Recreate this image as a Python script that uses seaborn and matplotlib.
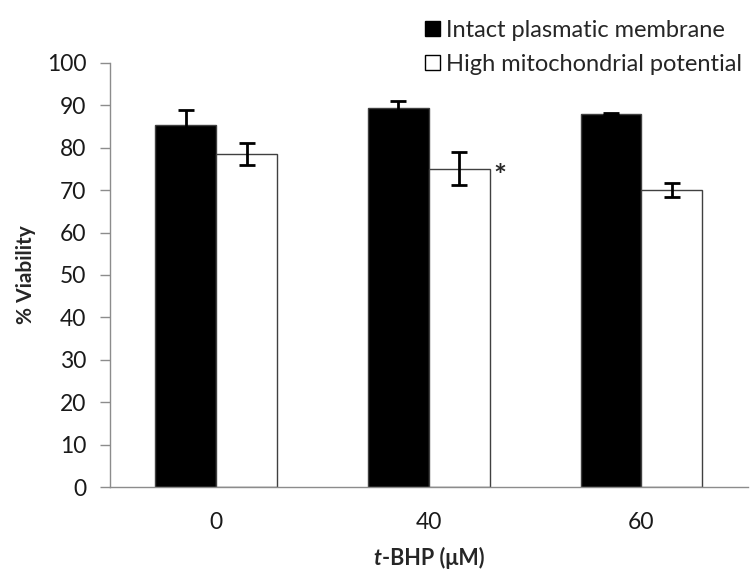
import pandas as pd
import matplotlib
matplotlib.use('Agg')
import matplotlib.pyplot as plt
import seaborn as sns
from matplotlib.patches import Patch
from matplotlib.offsetbox import TextArea, HPacker, AnchoredOffsetbox

# data
concentrations = ['0', '40', '60']
intact = [85.4, 89.3, 88.0]
intact_err = [3.4, 1.7, 0.3]
mito = [78.5, 75.1, 70.0]
mito_err = [2.6, 4.0, 1.7]
series = ['Intact plasmatic membrane', 'High mitochondrial potential']
significant = [False, True, False]

df = pd.DataFrame({
    'conc': concentrations * 2,
    'viability': intact + mito,
    'series': [series[0]] * 3 + [series[1]] * 3,
})

sns.set_style('white')
plt.rcParams['font.family'] = ['Lato', 'DejaVu Sans']

fig = plt.figure(figsize=(7.56, 5.72), dpi=100)
ax = fig.add_axes([0.1455, 0.1486, 0.8435, 0.7414])

sns.barplot(data=df, x='conc', y='viability', hue='series', hue_order=series,
            palette=['black', 'white'], width=0.572, edgecolor='#404040',
            linewidth=1, errorbar=None, legend=False, ax=ax)

# error bars on the bar centres
errs = [intact_err, mito_err]
vals = [intact, mito]
for cont, v, e in zip(ax.containers, vals, errs):
    xs = [b.get_x() + b.get_width() / 2 for b in cont]
    ax.errorbar(xs, v, yerr=e, fmt='none', ecolor='black', elinewidth=2,
                capsize=6, capthick=2, zorder=5)

# significance star
for b, s in zip(ax.containers[1], significant):
    if s:
        ax.annotate('*', (b.get_x() + b.get_width(), b.get_height()),
                    xytext=(3, -6), textcoords='offset points',
                    fontsize=22, fontweight='bold', ha='left', va='center')

ax.set_xlim(-0.5, 2.5)
ax.set_ylim(0, 100)
ax.set_yticks(range(0, 101, 10))
ax.set_xticks([-0.5, 0.5, 1.5, 2.5], minor=True)
ax.tick_params(axis='x', which='major', length=0, pad=18, labelsize=16.5)
ax.tick_params(axis='x', which='minor', length=5.5, color='#8c8c8c', width=1, direction='out')
ax.tick_params(axis='y', length=7, color='#8c8c8c', width=1, direction='out',
               pad=10, labelsize=16.5, left=True)
for lab in ax.get_xticklabels() + ax.get_yticklabels():
    lab.set_color('#1a1a1a')

sns.despine(ax=ax)
for sp in ['left', 'bottom']:
    ax.spines[sp].set_color('#8c8c8c')
    ax.spines[sp].set_linewidth(1)

ax.set_ylabel('% Viability', fontsize=15, fontweight='bold', labelpad=8)
ax.set_xlabel('')

# x label with italic t
t1 = TextArea('t', textprops=dict(fontsize=15.5, fontweight='bold', fontstyle='italic'))
t2 = TextArea('-BHP (μM)', textprops=dict(fontsize=15.5, fontweight='bold'))
box = HPacker(children=[t1, t2], align='baseline', pad=0, sep=0)
anc = AnchoredOffsetbox(loc='center', child=box, frameon=False,
                        bbox_to_anchor=(0.5, -0.167), bbox_transform=ax.transAxes,
                        borderpad=0)
ax.add_artist(anc)

handles = [Patch(facecolor='black', edgecolor='black'),
           Patch(facecolor='white', edgecolor='black')]
fig.legend(handles, series, loc='upper right', bbox_to_anchor=(1.0, 0.99),
           frameon=False, fontsize=17, handlelength=0.65, handleheight=0.65,
           handletextpad=0.25, labelspacing=0.55, borderaxespad=0.2)

fig.savefig('out.png', dpi=100)
